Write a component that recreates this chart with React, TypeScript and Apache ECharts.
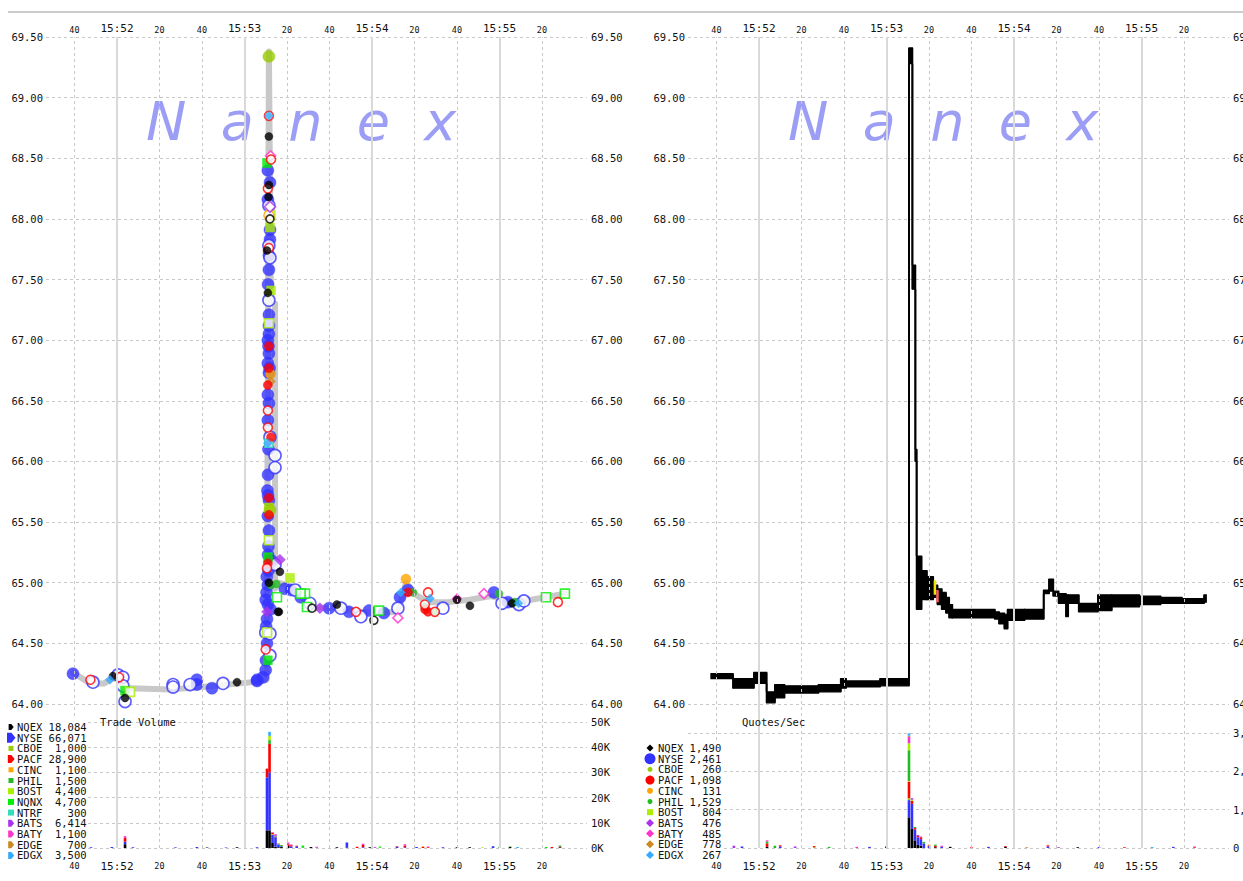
import { useEffect, useRef } from 'react';
import * as echarts from 'echarts';

// ---- time axis: seconds after 15:52:00 ----
const timeMin = -33.4;
const timeMax = 221.2;
const timeTicks = [-20, 0, 20, 40, 60, 80, 100, 120, 140, 160, 180, 200];

const priceMin = 64;
const priceMax = 69.5;
const priceStep = 0.5;

const tradeExchanges = ['NQEX', 'NYSE', 'CBOE', 'PACF', 'CINC', 'PHIL', 'BOST', 'NQNX', 'NTRF', 'BATS', 'BATY', 'EDGE', 'EDGX'];
const tradeTotals = [18084, 66071, 1000, 28900, 1100, 1500, 4400, 4700, 300, 6414, 1100, 700, 3500];
const quoteExchanges = ['NQEX', 'NYSE', 'CBOE', 'PACF', 'CINC', 'PHIL', 'BOST', 'BATS', 'BATY', 'EDGE', 'EDGX'];
const quoteTotals = [1490, 2461, 260, 1098, 131, 1529, 804, 476, 485, 778, 267];

// consolidated trade price path [seconds, price]
const tradePath = [
  [-20.7, 64.26], [-12.7, 64.17], [-6, 64.17], [-2.4, 64.21], [1.5, 64.21], [3, 64.1], [6.5, 64.13],
  [25, 64.12], [40, 64.14], [58, 64.17], [68.5, 64.19], [70.5, 64.2], [71.5, 69.38], [72.5, 67.3],
  [74.4, 67.3], [74.4, 64.95], [76, 65.0], [81.5, 64.97], [88, 64.86], [90.8, 64.8], [103.5, 64.79],
  [114.8, 64.76], [123, 64.75], [132.2, 64.76], [136, 65.0], [140.7, 64.9], [146.4, 64.84], [156, 64.84],
  [166, 64.86], [176, 64.89], [186, 64.84], [195, 64.86], [210.8, 64.91],
];

// trades per exchange [seconds, price, hollow]
const nqexTrades = [
  [-1.9, 64.23, 0], [3.8, 64.05, 0], [56.5, 64.18, 0], [71.5, 68.68, 0], [71.5, 68.28, 0], [71.3, 68.18, 0],
  [71, 67.39, 0], [70.6, 67.74, 0], [76.7, 65.09, 0], [76.2, 64.76, 0], [103.5, 64.82, 0], [160, 64.86, 0],
  [166.1, 64.81, 0], [185.9, 64.83, 0], [71.5, 65.0, 0], [75.8, 64.76, 0], [91.8, 64.79, 1], [120.9, 64.69, 1], [72, 68.0, 1],
];
const nyseTrades = [
  [-20.7, 64.25, 0], [37.6, 64.2, 0], [37.6, 64.16, 0], [44.7, 64.13, 0], [65.9, 64.19, 0], [68.7, 64.22, 0],
  [71, 68.4, 0], [71, 68.16, 0], [72, 67.91, 0], [72, 67.83, 0], [71.5, 67.58, 0], [71.1, 67.46, 0],
  [71.5, 67.21, 0], [71, 67.0, 0], [71.5, 67.05, 0], [71.5, 66.89, 0], [71, 66.81, 0], [71.5, 66.73, 0],
  [71, 66.55, 0], [71.5, 66.48, 0], [71, 66.34, 0], [71.1, 65.89, 0], [71.1, 65.72, 0], [71.5, 65.68, 0],
  [71.5, 65.43, 0], [71.1, 65.23, 0], [71, 64.98, 0], [70, 64.86, 0], [70.1, 64.36, 0], [70, 64.28, 0],
  [66, 64.2, 0], [99.8, 64.79, 0], [109.2, 64.76, 0], [118.6, 64.77, 0], [125.6, 64.75, 0], [133.2, 64.88, 0],
  [136.9, 64.94, 0], [177.4, 64.92, 0], [184, 64.84, 0], [71.5, 67.7, 0], [71.5, 67.12, 0], [71.3, 66.95, 0],
  [71.3, 66.1, 0], [71, 65.55, 0], [71.3, 65.3, 0], [71.3, 65.1, 0], [70.6, 64.7, 0], [70.6, 64.5, 0],
  [71, 64.82, 0], [82, 64.94, 0], [86.5, 64.88, 0], [70.4, 64.92, 0], [72.3, 64.78, 0], [70.2, 64.64, 0],
  [71.8, 66.77, 0], [70.8, 65.76, 0], [72, 68.3, 0], [70.5, 65.05, 0], [73, 65.18, 0], [79, 64.95, 0],
  [-11.3, 64.18, 1], [0.5, 64.24, 1], [2.8, 64.22, 1], [2.8, 64.15, 1], [3.8, 64.02, 1], [26.4, 64.16, 1],
  [26.4, 64.14, 1], [34.4, 64.16, 1], [49.9, 64.17, 1], [71.5, 68.11, 1], [72, 67.68, 1], [71.5, 67.33, 1],
  [72, 66.2, 1], [74.4, 66.05, 1], [74.4, 65.95, 1], [74.4, 65.15, 1], [83.8, 64.94, 1], [90.8, 64.83, 1],
  [105.4, 64.79, 1], [114.8, 64.72, 1], [132.2, 64.79, 1], [153.4, 64.79, 1], [181.2, 64.83, 1],
  [189.2, 64.82, 1], [191.5, 64.85, 1], [70, 64.59, 1], [72, 64.58, 1], [71.5, 67.78, 1], [72, 64.4, 1],
];
const cboeTrades = [[71.5, 69.34, 0], [72, 65.6, 0]];
const pacfTrades = [
  [71, 66.63, 0], [71.5, 66.77, 0], [71.5, 65.56, 0], [71.5, 65.7, 0], [71, 65.16, 0], [136.9, 64.92, 0],
  [146.4, 64.76, 0], [145, 64.78, 0], [71.5, 66.95, 0], [72.5, 66.2, 0],
  [71.5, 68.85, 1], [72.5, 68.49, 1], [71, 66.42, 1], [71, 66.28, 1], [70.6, 65.12, 1], [70, 64.45, 1],
  [112.5, 64.76, 1], [144.9, 64.82, 1], [149.6, 64.76, 1], [146.4, 64.92, 1], [207.5, 64.84, 1],
  [-12.5, 64.2, 1], [1, 64.22, 1], [71.5, 67.76, 1], [71, 68.25, 1],
];
const cincTrades = [[136, 65.03, 0], [71.5, 68.03, 1], [72.3, 66.72, 0]];
const philTrades = [
  [72.5, 64.98, 0], [75, 64.99, 0], [139.3, 64.92, 0], [144.9, 64.8, 0], [150, 64.76, 0], [179.8, 64.91, 0],
  [187, 64.84, 0], [71.5, 65.2, 0],
];
const bostTrades = [
  [81.4, 65.04, 0], [72, 67.93, 0], [72.5, 67.41, 0], [71.5, 65.62, 0],
  [6.1, 64.1, 1], [71.5, 65.35, 1], [70.6, 64.59, 1], [71.5, 67.14, 1], [72.2, 68.03, 1],
];
const nqnxTrades = [
  [3.8, 64.11, 0], [70.6, 68.46, 0], [71, 65.21, 0], [71, 64.36, 0],
  [88.5, 64.91, 1], [89.4, 64.8, 1], [123.3, 64.77, 1], [201.9, 64.88, 1], [210.8, 64.91, 1], [86.4, 64.91, 1],
  [75.3, 64.88, 1],
];
const ntrfTrades = [[71.5, 66.15, 1]];
const batsTrades = [[76.7, 65.19, 0], [95.5, 64.79, 0], [70.6, 64.76, 0], [72, 68.1, 1]];
const batyTrades = [[132.2, 64.71, 1], [172.7, 64.91, 1], [160, 64.87, 0], [72.3, 68.52, 1]];
const edgeTrades = [[72.5, 66.66, 0]];
const edgxTrades = [[71.5, 68.85, 0], [-3.3, 64.2, 0], [133.6, 64.92, 0], [147.3, 64.87, 0], [189, 64.83, 0], [71, 66.15, 0]];

// trade volume per exchange [seconds, shares]
const volNQEX = [[3.8, 1500], [42.4, 200], [56.5, 300], [70.6, 7000], [71.8, 7000], [73.2, 2000], [74.6, 500], [76, 300], [77.4, 400], [80.6, 800], [91.3, 400], [103.5, 300], [108.2, 200], [119, 300], [160, 300], [166, 300], [185, 400], [208.5, 300]];
const volNYSE = [[-12.2, 300], [-2.4, 400], [3.8, 1000], [7.5, 300], [27.5, 250], [37.6, 400], [51.3, 200], [65.9, 300], [70.6, 21000], [71.8, 23000], [73.2, 3200], [74.6, 3800], [76, 1200], [77.4, 300], [82, 600], [84.6, 700], [94, 200], [108.2, 2000], [115.8, 300], [131.8, 500], [135.5, 300], [141, 400], [153.4, 300], [177, 700]];
const volCBOE = [[73.2, 300]];
const volPACF = [[3.8, 1500], [70.6, 3500], [71.8, 11300], [73.2, 500], [74.6, 300], [80.6, 700], [82, 500], [84.6, 200], [113, 500], [115.8, 900], [131.8, 200], [135.5, 700], [144, 400], [146.4, 300], [204.7, 400], [208.5, 300]];
const volCINC = [[144, 300]];
const volPHIL = [[71.8, 1500], [77.4, 500], [87.5, 300], [123.8, 200], [180, 300], [185, 200], [208.5, 400]];
const volBOST = [[71.8, 1700], [76, 200], [172, 300]];
const volNQNX = [[87.5, 700], [123.8, 400], [202, 400]];
const volNTRF = [[74.6, 200]];
const volBATS = [[74.6, 400], [80.6, 300], [121.4, 300]];
const volBATY = [[3.8, 700], [73.2, 300], [74.6, 300], [80.6, 400], [82, 300], [94, 300], [115.8, 500], [135.5, 500], [146.4, 300]];
const volEDGE = [[76, 200]];
const volEDGX = [[71.8, 1600], [188.5, 400]];

// national best bid / offer
const nbboTime = [-22.6, -12.2, -2.4, 3.6, 7.5, 12, 28, 38.5, 41, 57, 70.6, 72.2, 73.6, 74.2, 76.5, 79, 82, 84, 86, 88, 89.5, 91, 111, 113, 115.5, 117, 125, 134, 136.5, 138.5, 141, 144.5, 145.5, 150.5, 159.5, 166, 179, 189, 199, 209.5, 210.5];
const nbboBid = [64.21, 64.13, 64.17, 64.01, 64.05, 64.09, 64.1, 64.13, 64.14, 64.15, 69.28, 67.42, 66.0, 64.78, 64.86, 64.86, 64.88, 64.82, 64.78, 64.75, 64.71, 64.71, 64.7, 64.66, 64.62, 64.69, 64.7, 64.91, 64.93, 64.89, 64.83, 64.72, 64.83, 64.76, 64.77, 64.8, 64.82, 64.83, 64.83, 64.84, 64.84];
const nbboAsk = [64.25, 64.21, 64.26, 64.1, 64.16, 64.15, 64.16, 64.21, 64.19, 64.21, 69.41, 67.62, 66.1, 65.22, 65.1, 65.05, 64.98, 64.95, 64.92, 64.88, 64.82, 64.78, 64.76, 64.75, 64.74, 64.78, 64.78, 64.94, 65.03, 64.93, 64.91, 64.9, 64.9, 64.83, 64.9, 64.9, 64.89, 64.88, 64.87, 64.9, 64.9];
const lockedQuote = [[82.8, 64.9], [82.8, 65.02]];
const crossedQuote = [[84, 64.84], [84, 64.94]];

// quotes per second per exchange [seconds, quotes]
const qpsNQEX = [[3.8, 30], [60, 40], [70.6, 800], [72, 500], [73.4, 200], [74.8, 80], [76.2, 60], [83, 20], [90, 30], [116, 30], [150, 20]];
const qpsNYSE = [[-8, 40], [10, 40], [52, 30], [70.6, 450], [72, 650], [73.4, 280], [74.8, 200], [76.2, 170], [77.6, 120], [80, 50], [86, 30], [108, 30], [136, 40], [160, 25], [195, 30]];
const qpsCBOE = [[26, 20], [70.6, 50]];
const qpsPACF = [[3.8, 90], [10, 30], [26, 30], [70.6, 430], [72, 80], [73.4, 40], [74.8, 30], [76.2, 50], [80, 20], [83, 40], [100, 20], [116, 20], [136, 30], [172, 20], [205, 20]];
const qpsCINC = [[70.6, 20], [80, 20]];
const qpsPHIL = [[3.8, 50], [7.5, 60], [33, 30], [70.6, 800], [73.4, 30], [77.6, 40], [83, 30]];
const qpsBOST = [[70.6, 180], [72, 30]];
const qpsBATS = [[-11.8, 60], [17, 40], [72, 40], [74.8, 30], [141, 20]];
const qpsBATY = [[3.8, 30], [46, 30], [70.6, 170], [76.2, 20], [86, 30], [205, 20]];
const qpsEDGE = [[70.6, 30], [126, 20]];
const qpsEDGX = [[70.6, 60], [185, 25]];

const tradesOf: Record<string, number[][]> = {
  NQEX: nqexTrades, NYSE: nyseTrades, CBOE: cboeTrades, PACF: pacfTrades, CINC: cincTrades, PHIL: philTrades,
  BOST: bostTrades, NQNX: nqnxTrades, NTRF: ntrfTrades, BATS: batsTrades, BATY: batyTrades, EDGE: edgeTrades, EDGX: edgxTrades,
};
const volumeOf: Record<string, number[][]> = {
  NQEX: volNQEX, NYSE: volNYSE, CBOE: volCBOE, PACF: volPACF, CINC: volCINC, PHIL: volPHIL, BOST: volBOST,
  NQNX: volNQNX, NTRF: volNTRF, BATS: volBATS, BATY: volBATY, EDGE: volEDGE, EDGX: volEDGX,
};
const qpsOf: Record<string, number[][]> = {
  NQEX: qpsNQEX, NYSE: qpsNYSE, CBOE: qpsCBOE, PACF: qpsPACF, CINC: qpsCINC, PHIL: qpsPHIL, BOST: qpsBOST,
  BATS: qpsBATS, BATY: qpsBATY, EDGE: qpsEDGE, EDGX: qpsEDGX,
};

// ---- styling ----
const MONO = '"DejaVu Sans Mono", "Liberation Mono", monospace';
const SANS = '"DejaVu Sans", Verdana, sans-serif';
const INK = '#111111';
const exColor: Record<string, string> = {
  NQEX: '#000000', NYSE: '#3333ff', CBOE: '#99cc00', PACF: '#ff0000', CINC: '#ffa500', PHIL: '#22bb22',
  BOST: '#aaee00', NQNX: '#00ee00', NTRF: '#33ddbb', BATS: '#aa33ee', BATY: '#ff33cc', EDGE: '#cc8822', EDGX: '#33aaff',
};
const tradeMarker: Record<string, [string, number]> = {
  NQEX: ['circle', 8], NYSE: ['circle', 12], CBOE: ['circle', 12], PACF: ['circle', 9], CINC: ['circle', 10],
  PHIL: ['circle', 8], BOST: ['rect', 9], NQNX: ['rect', 9], NTRF: ['rect', 8], BATS: ['diamond', 11],
  BATY: ['diamond', 10], EDGE: ['diamond', 9], EDGX: ['diamond', 9],
};
const tradeDrawOrder = ['NYSE', 'NTRF', 'NQNX', 'BOST', 'PHIL', 'CBOE', 'CINC', 'BATS', 'BATY', 'EDGE', 'PACF', 'NQEX', 'EDGX'];
const tradeKey: Record<string, [string, number]> = {
  NQEX: ['arrow', 6], NYSE: ['arrow', 10], CBOE: ['square', 5], PACF: ['arrow', 8], CINC: ['square', 5],
  PHIL: ['square', 5], BOST: ['square', 6], NQNX: ['square', 6], NTRF: ['square', 6], BATS: ['arrow', 7],
  BATY: ['arrow', 7], EDGE: ['arrow', 7], EDGX: ['arrow', 7],
};
const quoteKey: Record<string, [string, number]> = {
  NQEX: ['diamond', 7], NYSE: ['circle', 11], CBOE: ['circle', 5], PACF: ['circle', 9], CINC: ['circle', 6],
  PHIL: ['circle', 5], BOST: ['square', 6], BATS: ['diamond', 8], BATY: ['diamond', 8], EDGE: ['diamond', 8], EDGX: ['diamond', 8],
};

const GRID_DASH = { color: '#c8c8c8', width: 1, type: [3, 3] };
const PANEL_SHIFT = 642;
const PLOT_LEFT = 46;
const PLOT_WIDTH = 541;
const BAR_W = 2.6;

function timeLabel(v: number) {
  const s = Math.round(v);
  if (s % 60 === 0) return `{m|15:${52 + s / 60}}`;
  return `{s|${((s % 60) + 60) % 60}}`;
}

function timeAxis(gridIndex: number, position: 'top' | 'bottom' | null, margin = 3) {
  return {
    type: 'value', gridIndex, min: timeMin, max: timeMax,
    show: position !== null, position: position ?? 'bottom',
    axisLine: { show: false }, axisTick: { show: false }, splitLine: { show: false },
    axisLabel: {
      customValues: timeTicks, formatter: timeLabel, margin, color: INK,
      rich: {
        m: { fontSize: 11, fontFamily: MONO, color: INK },
        s: { fontSize: 8.5, fontFamily: MONO, color: INK },
      },
    },
  };
}

function priceAxis(gridIndex: number, position: 'left' | 'right', grid: boolean) {
  return {
    type: 'value', gridIndex, position, min: priceMin, max: priceMax, interval: priceStep,
    axisLine: { show: false }, axisTick: { show: false },
    splitLine: { show: grid, lineStyle: GRID_DASH },
    axisLabel: { formatter: (v: number) => v.toFixed(2), margin: position === 'left' ? 3 : 4, fontFamily: MONO, fontSize: 10.5, color: INK },
  };
}

function timeGridLines() {
  return timeTicks.map((t) => ({
    xAxis: t,
    lineStyle: t % 60 === 0 ? { color: '#d9d9d9', width: 2, type: 'solid' } : { ...GRID_DASH },
  }));
}

// cumulative stacking of per-exchange counts at shared timestamps -> [t, base, top]
function stackByTime(order: string[], byExchange: Record<string, number[][]>) {
  const level = new Map<number, number>();
  const out: Record<string, number[][]> = {};
  order.forEach((ex) => {
    out[ex] = (byExchange[ex] || []).map(([t, v]) => {
      const base = level.get(t) ?? 0;
      level.set(t, base + v);
      return [t, base, base + v];
    });
  });
  return out;
}

function stackedBarSeries(name: string, color: string, xAxisIndex: number, yAxisIndex: number, data: number[][]) {
  return {
    type: 'custom', name, xAxisIndex, yAxisIndex, silent: true, z: 3, clip: true,
    encode: { x: 0, y: [1, 2] },
    data,
    renderItem: (_p: any, api: any) => {
      const lo = api.coord([api.value(0), api.value(1)]);
      const hi = api.coord([api.value(0), api.value(2)]);
      return {
        type: 'rect',
        shape: { x: lo[0] - BAR_W / 2, y: hi[1], width: BAR_W, height: Math.max(lo[1] - hi[1], 0.6) },
        style: { fill: color },
      };
    },
  };
}

function keyMarker(shape: string, s: number, cx: number, cy: number, color: string) {
  const style = { fill: color };
  if (shape === 'circle') return { type: 'circle', shape: { cx, cy, r: s / 2 }, style, z: 101 };
  if (shape === 'square') return { type: 'rect', shape: { x: cx - s / 2, y: cy - s / 2, width: s, height: s }, style, z: 101 };
  if (shape === 'diamond') {
    return { type: 'polygon', shape: { points: [[cx, cy - s / 2], [cx + s / 2, cy], [cx, cy + s / 2], [cx - s / 2, cy]] }, style, z: 101 };
  }
  return {
    type: 'polygon',
    shape: { points: [[cx - s * 0.4, cy - s / 2], [cx + s * 0.05, cy - s / 2], [cx + s * 0.45, cy], [cx + s * 0.05, cy + s / 2], [cx - s * 0.4, cy + s / 2]] },
    style, z: 101,
  };
}

function keyRows(names: string[], totals: number[], shapes: Record<string, [string, number]>, markerX: number, textX: number, top: number, pad: number) {
  const out: any[] = [];
  names.forEach((n, i) => {
    const cy = top + i * 10.7;
    const [shape, size] = shapes[n];
    out.push(keyMarker(shape, size, markerX, cy, exColor[n]));
    out.push({
      type: 'text', x: textX, y: cy, z: 101, silent: true,
      style: {
        text: `${n} ${totals[i].toLocaleString('en-US').padStart(pad)}`,
        fill: INK, fontFamily: MONO, fontSize: 10.5,
        verticalAlign: 'middle', textVerticalAlign: 'middle',
      },
    });
  });
  return out;
}

function watermark(x: number) {
  return {
    type: 'text', x, y: 121, z: 0, silent: true,
    style: {
      text: 'N  a  n  e  x', fill: '#9c9ef5', fontFamily: SANS, fontStyle: 'italic', fontSize: 54,
      verticalAlign: 'middle', textVerticalAlign: 'middle',
    },
  };
}

function buildOption() {
  const leftX = PLOT_LEFT;
  const rightX = PLOT_LEFT + PANEL_SHIFT;
  const grids = [
    { left: leftX, top: 37, width: PLOT_WIDTH, height: 811 },
    { left: leftX, top: 37, width: PLOT_WIDTH, height: 667 },
    { left: leftX, top: 722, width: PLOT_WIDTH, height: 126 },
    { left: rightX, top: 37, width: PLOT_WIDTH, height: 811 },
    { left: rightX, top: 37, width: PLOT_WIDTH, height: 667 },
    { left: rightX, top: 733, width: PLOT_WIDTH, height: 115 },
  ].map((g) => ({ ...g, outerBoundsMode: 'none', containLabel: false }));

  const xAxis = [
    timeAxis(0, null), timeAxis(1, 'top'), timeAxis(2, 'bottom', 13),
    timeAxis(3, null), timeAxis(4, 'top'), timeAxis(5, 'bottom', 13),
  ];

  const yAxis = [
    { type: 'value', gridIndex: 0, min: 0, max: 1, show: false },
    priceAxis(1, 'left', true),
    priceAxis(1, 'right', false),
    {
      type: 'value', gridIndex: 2, position: 'right', min: 0, max: 50000, interval: 10000,
      axisLine: { show: false }, axisTick: { show: false },
      splitLine: { show: true, lineStyle: GRID_DASH },
      axisLabel: { formatter: (v: number) => `${v / 1000}K`, margin: 4, fontFamily: MONO, fontSize: 10.5, color: INK },
    },
    { type: 'value', gridIndex: 3, min: 0, max: 1, show: false },
    priceAxis(4, 'left', true),
    priceAxis(4, 'right', false),
    {
      type: 'value', gridIndex: 5, position: 'right', min: 0, max: 3000, interval: 1000,
      axisLine: { show: false }, axisTick: { show: false },
      splitLine: { show: true, lineStyle: GRID_DASH },
      axisLabel: { formatter: (v: number) => v.toLocaleString('en-US'), margin: 4, fontFamily: MONO, fontSize: 10.5, color: INK },
    },
  ];

  const series: any[] = [];

  // vertical time grid lines spanning price and volume areas
  [[0, 0], [3, 4]].forEach(([xi, yi]) => {
    series.push({
      type: 'line', xAxisIndex: xi, yAxisIndex: yi, data: [[timeMin, 0]], symbol: 'none', silent: true, z: 1,
      lineStyle: { width: 0 },
      markLine: { symbol: ['none', 'none'], silent: true, label: { show: false }, data: timeGridLines() },
    });
  });

  // left: trade path and trades
  series.push({
    type: 'line', name: 'path', xAxisIndex: 1, yAxisIndex: 1, data: tradePath, symbol: 'none', silent: true, z: 2,
    lineStyle: { color: '#c8c8c8', width: 6, cap: 'round', join: 'round' },
  });
  tradeDrawOrder.forEach((ex) => {
    const c = exColor[ex];
    const [symbol, symbolSize] = tradeMarker[ex];
    const pts = tradesOf[ex].slice().sort((a, b) => a[2] - b[2]);
    series.push({
      type: 'scatter', name: ex, xAxisIndex: 1, yAxisIndex: 1, symbol, symbolSize, z: 3, silent: true,
      data: pts.map(([t, p, h]) => ({
        value: [t, p],
        itemStyle: h ? { color: '#ffffff', borderColor: c, borderWidth: 1.6 } : { color: c, borderColor: c, borderWidth: 0.5 },
      })),
    });
  });

  // left: stacked trade volume
  const volStacks = stackByTime(tradeExchanges, volumeOf);
  tradeExchanges.forEach((ex) => {
    series.push(stackedBarSeries(`${ex} vol`, exColor[ex], 2, 3, volStacks[ex]));
  });

  // right: bid/offer band, one block per quote interval
  const nbboSteps = nbboTime.slice(0, -1).map((t, i) => [
    t, nbboTime[i + 1], nbboBid[i], nbboAsk[i], nbboBid[i + 1], nbboAsk[i + 1],
  ]);
  series.push({
    type: 'custom', name: 'nbbo', xAxisIndex: 4, yAxisIndex: 5, silent: true, z: 3, clip: true,
    encode: { x: [0, 1], y: [2, 3, 4, 5] },
    data: nbboSteps,
    renderItem: (_p: any, api: any) => {
      const t0 = api.value(0), t1 = api.value(1);
      const topLeft = api.coord([t0, api.value(3)]);
      const botRight = api.coord([t1, api.value(2)]);
      const bidNext = api.coord([t1, api.value(4)]);
      const askNext = api.coord([t1, api.value(5)]);
      const ink = { stroke: '#000', lineWidth: 1.8 };
      return {
        type: 'group',
        children: [
          {
            type: 'rect',
            shape: { x: topLeft[0], y: topLeft[1], width: botRight[0] - topLeft[0], height: botRight[1] - topLeft[1] },
            style: { fill: '#000', stroke: '#000', lineWidth: 1.2 },
          },
          { type: 'line', shape: { x1: botRight[0], y1: botRight[1], x2: bidNext[0], y2: bidNext[1] }, style: ink },
          { type: 'line', shape: { x1: botRight[0], y1: topLeft[1], x2: askNext[0], y2: askNext[1] }, style: ink },
        ],
      };
    },
  });
  series.push({
    type: 'line', name: 'locked', xAxisIndex: 4, yAxisIndex: 5, symbol: 'none', silent: true, z: 4,
    lineStyle: { color: '#f2e600', width: 2.5 }, data: lockedQuote,
  });
  series.push({
    type: 'line', name: 'crossed', xAxisIndex: 4, yAxisIndex: 5, symbol: 'none', silent: true, z: 4,
    lineStyle: { color: '#ff6060', width: 2.5 }, data: crossedQuote,
  });

  // right: stacked quote rate
  const qpsStacks = stackByTime(quoteExchanges, qpsOf);
  quoteExchanges.forEach((ex) => {
    series.push(stackedBarSeries(`${ex} qps`, exColor[ex], 5, 7, qpsStacks[ex]));
  });

  const graphic: any[] = [
    { type: 'line', shape: { x1: 8, y1: 12, x2: 1243, y2: 12 }, style: { stroke: '#bbbbbb', lineWidth: 1.5 }, silent: true },
    watermark(146),
    watermark(146 + PANEL_SHIFT),
    { type: 'rect', shape: { x: 8, y: 719, width: 80, height: 141 }, style: { fill: '#ffffff' }, z: 100, silent: true },
    { type: 'rect', shape: { x: 640, y: 740, width: 83, height: 120 }, style: { fill: '#ffffff' }, z: 100, silent: true },
    {
      type: 'text', x: 100, y: 722, z: 101, silent: true,
      style: { text: 'Trade Volume', fill: INK, fontFamily: MONO, fontSize: 10.5, verticalAlign: 'middle', textVerticalAlign: 'middle' },
    },
    {
      type: 'text', x: 742, y: 722, z: 101, silent: true,
      style: { text: 'Quotes/Sec', fill: INK, fontFamily: MONO, fontSize: 10.5, verticalAlign: 'middle', textVerticalAlign: 'middle' },
    },
    ...keyRows(tradeExchanges, tradeTotals, tradeKey, 11, 17, 727, 6),
    ...keyRows(quoteExchanges, quoteTotals, quoteKey, 650, 658, 748, 5),
  ];

  return {
    animation: false,
    backgroundColor: '#ffffff',
    textStyle: { fontFamily: MONO },
    grid: grids,
    xAxis,
    yAxis,
    series,
    graphic,
  };
}

export default function App() {
  const ref = useRef<HTMLDivElement>(null);
  useEffect(() => {
    if (!ref.current) return;
    const chart = echarts.init(ref.current, null, { renderer: 'svg' });
    chart.setOption(buildOption() as any);
    return () => chart.dispose();
  }, []);
  return (
    <div
      ref={ref}
      style={{ position: 'absolute', left: 0, top: 0, width: 1243, height: 881, background: '#ffffff' }}
    />
  );
}
